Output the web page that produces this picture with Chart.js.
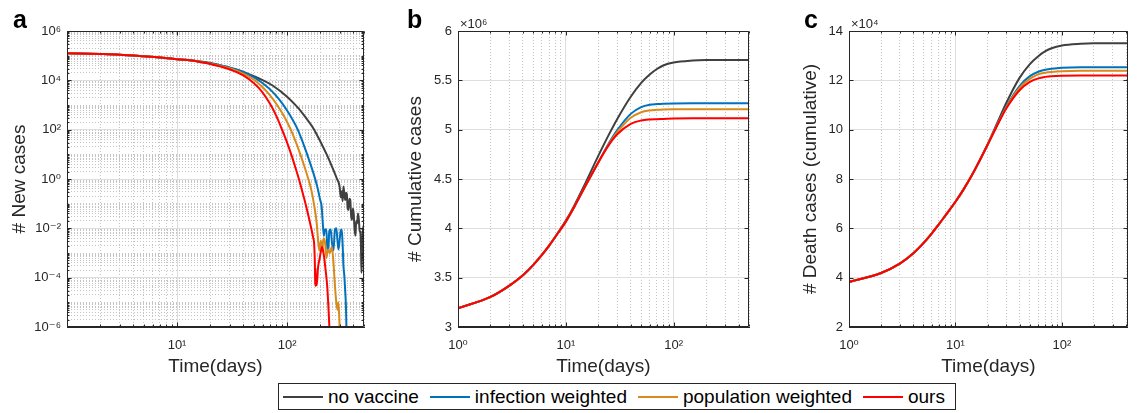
<!DOCTYPE html>
<html>
<head>
<meta charset="utf-8">
<script src="https://cdn.jsdelivr.net/npm/chart.js@4.4.1/dist/chart.umd.min.js"></script>
<style>
  body { margin: 0; background: #fff; width: 1137px; height: 413px; position: relative; overflow: hidden;
         font-family: Arial, "Liberation Sans", sans-serif; }
  canvas { position: absolute; top: 0; }
  .tag { position: absolute; top: 7px; font: bold 25px/25px Arial, "Liberation Sans", sans-serif; color: #000; }
  #legend { position: absolute; left: 278px; top: 383px; width: 678px; height: 27px; box-sizing: border-box;
            border: 1px solid #262626; display: flex; align-items: center; padding-left: 4px;
            font: 19px Arial, "Liberation Sans", sans-serif; color: #000; white-space: nowrap; background: #fff; }
  .item { display: flex; align-items: center; margin-right: 11px; }
  .sw { display: inline-block; width: 40px; height: 2px; margin-right: 5px; }
</style>
</head>
<body>
<canvas id="ca" width="380" height="380" style="left:0"></canvas>
<canvas id="cb" width="380" height="380" style="left:380px"></canvas>
<canvas id="cc" width="377" height="380" style="left:760px"></canvas>
<div class="tag" style="left:13px">a</div>
<div class="tag" style="left:407px">b</div>
<div class="tag" style="left:804px">c</div>
<div id="legend"></div>

<script>
// series names and colours
var seriesNames = ["no vaccine", "infection weighted", "population weighted", "ours"];
var seriesColors = ["#404040", "#0072BD", "#D98A1A", "#FF0000"];

// panel a: daily new cases (log-log), each series has its own day samples
var aDaysNoVaccine = [1,2,3,5,7,10,12,15,20,25,30,40,50,60,70,80,90,100,120,140,160,174,200,230,260,283,300,308,314,320,325,331,337,343,349,355,361,368,375,382,389,396,403,410,418,425,433,441,449,457,465,470,474,478,482,488,494,500];
var aNoVaccine = [1.26e5,1.17e5,1.1e5,9.5e4,8.5e4,7.2e4,6.8e4,6.05e4,5e4,4.05e4,3.27e4,2.17e4,1.47e4,1.02e4,7.1e3,4.8e3,3.24e3,2.15e3,960,430,190,110,34,9.5,2.7,1.05,0.5,0.18,0.32,0.126,0.5,0.25,0.14,0.28,0.25,0.063,0.056,0.16,0.14,0.032,0.022,0.063,0.04,0.01,5e-3,0.02,0.016,0.04,0.022,7.9e-3,6.3e-3,1.26e-3,1.6e-4,5e-4,1e-3,6.3e-3,0.0126,5e-3];

var aDaysInfection = [1,2,3,5,7,10,15,20,25,30,40,50,55,60,70,80,90,100,110,125,140,150,160,170,180,190,200,206,212,216,221,228,232,237,242,249,256,264,272,280,287,293,300,307,314,320,325,331,337,343,350];
var aInfection = [1.26e5,1.17e5,1.1e5,9.5e4,8.5e4,7.2e4,6e4,4.8e4,4e4,3.3e4,2.2e4,1.32e4,1e4,7.6e3,4.3e3,2.3e3,1.2e3,600,295,100,28,12,5.2,2.3,1,0.4,0.14,0.079,0.0126,5e-3,8.9e-3,8.9e-3,1.26e-3,1.3e-3,7.9e-3,8.9e-3,2.5e-3,1.26e-3,8.9e-3,0.01,3.2e-3,1.4e-3,3.2e-3,7.9e-3,8.9e-3,2e-3,3.2e-4,1.26e-4,3.2e-5,6.3e-6,1e-7];

var aDaysPopulation = [1,2,3,5,7,10,15,20,25,30,40,50,60,70,80,90,100,108,120,130,140,156,167,176,186,191,196,203,208,214,221,228,236,245,255,263,272,280,287,293,298,305];
var aPopulation = [1.26e5,1.17e5,1.1e5,9.5e4,8.5e4,7.2e4,6e4,4.7e4,3.8e4,3.1e4,1.86e4,1.05e4,5.2e3,2.45e3,1.1e3,480,204,100,32,12,4.6,1,0.32,0.089,0.0158,3.5e-3,1.26e-3,3.2e-3,1.1e-3,4e-3,2.8e-3,6.3e-4,1.4e-3,1e-3,1.8e-3,5e-4,5e-5,1e-5,5e-6,1e-5,2.5e-6,1e-7];

var aDaysOurs = [1,2,3,5,7,10,15,20,25,30,40,50,60,70,80,90,100,110,120,128,140,150,165,173,176,179,180,181,182,184,186,191,198,208,216,224,232,240,248];
var aOurs = [1.26e5,1.17e5,1.1e5,9.5e4,8.5e4,7.2e4,6e4,4.6e4,3.6e4,2.8e4,1.58e4,7.6e3,3.2e3,1.12e3,355,100,30,8.9,2.6,1,0.23,0.07,0.011,4e-3,2.5e-3,3.2e-4,5e-5,2.5e-4,4.5e-5,1.26e-4,5e-5,2.5e-4,6.3e-4,1.8e-3,8e-4,2e-4,4e-5,2.5e-6,1e-7];

// panels b and c share the day samples
var days = [1,2,3,4,5,6,7,8,10,12,15,20,25,30,40,50,60,70,80,100,150,200,300,500];

// panel b: cumulative cases (x 10^6)
var bNoVaccine  = [3.19,3.305,3.42,3.525,3.63,3.73,3.825,3.915,4.078,4.233,4.446,4.734,4.947,5.109,5.334,5.475,5.56,5.615,5.65,5.68,5.70,5.705,5.706,5.706];
var bInfection  = [3.19,3.305,3.42,3.525,3.63,3.73,3.825,3.915,4.068,4.219,4.418,4.668,4.86,4.995,5.16,5.228,5.252,5.259,5.263,5.266,5.267,5.267,5.267,5.267];
var bPopulation = [3.19,3.305,3.42,3.525,3.63,3.73,3.825,3.915,4.068,4.219,4.418,4.668,4.85,4.975,5.12,5.177,5.195,5.201,5.204,5.206,5.206,5.206,5.206,5.206];
var bOurs       = [3.19,3.305,3.42,3.525,3.63,3.73,3.825,3.915,4.068,4.219,4.418,4.668,4.843,4.953,5.059,5.093,5.103,5.106,5.108,5.112,5.115,5.115,5.115,5.115];

// panel c: cumulative deaths (x 10^4)
var cNoVaccine  = [3.83,4.19,4.57,4.98,5.4,5.8,6.17,6.506,7.078,7.6,8.33,9.40,10.32,11.08,12.1,12.66,12.98,13.18,13.3,13.41,13.48,13.5,13.5,13.5];
var cInfection  = [3.83,4.19,4.57,4.98,5.4,5.8,6.17,6.506,7.078,7.599,8.327,9.38,10.25,10.93,11.77,12.17,12.35,12.43,12.47,12.51,12.53,12.53,12.53,12.53];
var cPopulation = [3.83,4.19,4.57,4.98,5.4,5.8,6.17,6.506,7.078,7.599,8.327,9.38,10.24,10.9,11.69,12.06,12.24,12.31,12.34,12.37,12.39,12.39,12.39,12.39];
var cOurs       = [3.83,4.19,4.57,4.98,5.4,5.8,6.17,6.506,7.078,7.599,8.327,9.377,10.22,10.86,11.6,11.94,12.08,12.14,12.17,12.19,12.2,12.2,12.2,12.2];

// tick labels
var aYTickExps = [-6, -4, -2, 0, 2, 4, 6];
var aXTickExps = [1, 2];
var bcXTickExps = [0, 1, 2];
var bYTicks = [3, 3.5, 4, 4.5, 5, 5.5, 6];
var cYTicks = [2, 4, 6, 8, 10, 12, 14];

var axisColor = "#262626";
var majorGrid = "#dedede";
var minorGrid = "#c4c4c4";

Chart.defaults.font.family = 'Arial, "Liberation Sans", "DejaVu Sans", sans-serif';
Chart.defaults.font.size = 13;
Chart.defaults.color = axisColor;

function sup(n) {
  return String(n).replace(/[-0-9]/g, function (c) { return "⁻⁰¹²³⁴⁵⁶⁷⁸⁹"["-0123456789".indexOf(c)]; });
}
function expOf(v) { return Math.round(Math.log10(v)); }
function isDecade(v) { return Math.abs(Math.log10(v) - expOf(v)) < 1e-6; }

// all 1..9 x 10^k ticks between min and max; "big" marks the labelled ones
function logTickList(min, max, bigExps) {
  var out = [];
  for (var e = Math.floor(Math.log10(min)); e <= Math.ceil(Math.log10(max)); e++) {
    for (var m = 1; m <= 9; m++) {
      var v = m * Math.pow(10, e);
      if (v >= min * 0.9999 && v <= max * 1.0001) out.push({ value: v, big: m === 1 && bigExps.indexOf(e) >= 0 });
    }
  }
  return out;
}

function gridColor(c) { return c.tick && !c.tick.big ? minorGrid : majorGrid; }
function gridDash(c) { return c.tick && !c.tick.big ? [1, 2] : []; }

function logX(max, exps) {
  return {
    type: "logarithmic", min: 1, max: max, bounds: "data",
    afterBuildTicks: function (s) { s.ticks = logTickList(1, max, exps); },
    afterFit: function (s) { s.height = 53; },
    ticks: {
      autoSkip: false, maxRotation: 0, minRotation: 0, padding: 11,
      callback: function (v) { return isDecade(v) && exps.indexOf(expOf(v)) >= 0 ? "10" + sup(expOf(v)) : ""; }
    },
    grid: { drawTicks: false, color: gridColor, lineWidth: 1 },
    border: { color: axisColor, dash: gridDash },
    title: { display: true, text: "Time(days)", font: { size: 19 }, color: axisColor, padding: { top: 0, bottom: 2 } }
  };
}

function linY(list, width, label, titlePad) {
  return {
    type: "linear", min: list[0], max: list[list.length - 1],
    afterBuildTicks: function (s) { s.ticks = list.map(function (v) { return { value: v, big: true }; }); },
    afterFit: function (s) { s.width = width; },
    ticks: { autoSkip: false, padding: 6, callback: function (v) { return String(v); } },
    grid: { drawTicks: false, color: majorGrid, lineWidth: 1 },
    border: { color: axisColor },
    title: { display: true, text: label, font: { size: 19 }, color: axisColor, padding: { top: titlePad, bottom: 0 } }
  };
}

// box around the axes, inward tick marks, and the x10^n note
var frame = {
  id: "frame",
  afterDraw: function (chart, args, opts) {
    var ctx = chart.ctx, a = chart.chartArea, sx = chart.scales.x, sy = chart.scales.y;
    var L = Math.round(a.left) + 0.5, R = Math.round(a.right) - 0.5;
    var T = Math.round(a.top) + 0.5, B = Math.round(a.bottom) - 0.5;
    ctx.save();
    ctx.strokeStyle = axisColor;
    ctx.lineWidth = 1;
    ctx.beginPath();
    ctx.rect(L, T, R - L, B - T);
    sx.ticks.forEach(function (t) {
      var p = Math.round(sx.getPixelForValue(t.value)) + 0.5, n = t.big ? 4 : 2;
      ctx.moveTo(p, B); ctx.lineTo(p, B - n);
      ctx.moveTo(p, T); ctx.lineTo(p, T + n);
    });
    sy.ticks.forEach(function (t) {
      var p = Math.round(sy.getPixelForValue(t.value)) + 0.5, n = t.big ? 4 : 2;
      ctx.moveTo(L, p); ctx.lineTo(L + n, p);
      ctx.moveTo(R, p); ctx.lineTo(R - n, p);
    });
    ctx.stroke();
    if (opts.note) {
      ctx.fillStyle = axisColor;
      ctx.font = '13px Arial, "Liberation Sans", "DejaVu Sans", sans-serif';
      ctx.textBaseline = "alphabetic";
      ctx.fillText(opts.note, a.left + 2, 28);
    }
    ctx.restore();
  }
};

function lineSet(i, data) {
  return {
    label: seriesNames[i], data: data, borderColor: seriesColors[i], backgroundColor: seriesColors[i],
    borderWidth: 2, pointRadius: 0, fill: false, cubicInterpolationMode: "monotone", order: 3 - i
  };
}
function pairs(xs, ys) { return xs.map(function (x, k) { return { x: x, y: ys[k] }; }); }

function baseOptions(padRight, scales, note) {
  return {
    responsive: false, animation: false, devicePixelRatio: 1, events: [],
    layout: { padding: { top: 31, right: padRight, left: 0, bottom: 0 }, autoPadding: false },
    plugins: { legend: { display: false }, tooltip: { enabled: false }, frame: { note: note } },
    scales: scales
  };
}

// panel a
new Chart(document.getElementById("ca"), {
  type: "line",
  data: {
    datasets: [
      lineSet(0, pairs(aDaysNoVaccine, aNoVaccine)),
      lineSet(1, pairs(aDaysInfection, aInfection)),
      lineSet(2, pairs(aDaysPopulation, aPopulation)),
      lineSet(3, pairs(aDaysOurs, aOurs))
    ]
  },
  options: baseOptions(16, {
    x: logX(500, aXTickExps),
    y: {
      type: "logarithmic", min: 1e-6, max: 1e6, bounds: "data",
      afterBuildTicks: function (s) { s.ticks = logTickList(1e-6, 1e6, aYTickExps); },
      afterFit: function (s) { s.width = 67; },
      ticks: {
        autoSkip: false, padding: 6,
        callback: function (v) { return isDecade(v) && aYTickExps.indexOf(expOf(v)) >= 0 ? "10" + sup(expOf(v)) : ""; }
      },
      grid: { drawTicks: false, color: gridColor, lineWidth: 1 },
      border: { color: axisColor, dash: gridDash },
      title: { display: true, text: "# New cases", font: { size: 19 }, color: axisColor, padding: { top: 8.6, bottom: 0 } }
    }
  }, ""),
  plugins: [frame]
});

// panel b
new Chart(document.getElementById("cb"), {
  type: "line",
  data: {
    datasets: [
      lineSet(0, pairs(days, bNoVaccine)),
      lineSet(1, pairs(days, bInfection)),
      lineSet(2, pairs(days, bPopulation)),
      lineSet(3, pairs(days, bOurs))
    ]
  },
  options: baseOptions(4, {
    x: logX(500, bcXTickExps),
    y: linY(bYTicks, 78, "# Cumulative cases", 24)
  }, "×10⁶"),
  plugins: [frame]
});

// panel c
new Chart(document.getElementById("cc"), {
  type: "line",
  data: {
    datasets: [
      lineSet(0, pairs(days, cNoVaccine)),
      lineSet(1, pairs(days, cInfection)),
      lineSet(2, pairs(days, cPopulation)),
      lineSet(3, pairs(days, cOurs))
    ]
  },
  options: baseOptions(0, {
    x: logX(415, bcXTickExps),
    y: linY(cYTicks, 89, "# Death cases (cumulative)", 39)
  }, "×10⁴"),
  plugins: [frame]
});

// shared legend
var legend = document.getElementById("legend");
seriesNames.forEach(function (name, i) {
  var item = document.createElement("span");
  item.className = "item";
  var sw = document.createElement("span");
  sw.className = "sw";
  sw.style.background = seriesColors[i];
  var tx = document.createElement("span");
  tx.textContent = name;
  item.appendChild(sw);
  item.appendChild(tx);
  legend.appendChild(item);
});
</script>
</body>
</html>
